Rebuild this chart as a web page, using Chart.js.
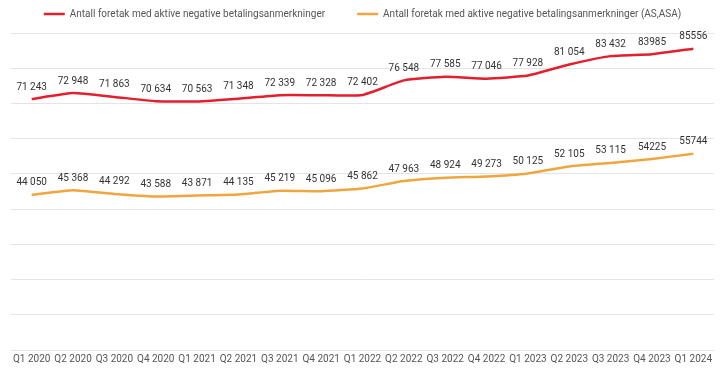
<!DOCTYPE html>
<html><head><meta charset="utf-8">
<script src="https://cdn.jsdelivr.net/npm/chart.js@4"></script>
<style>html,body{margin:0;padding:0;background:#fff}#wrap{width:726px;height:371px}</style>
</head><body><div id="wrap"><canvas id="c"></canvas></div>
<script>
const categories = ["Q1 2020","Q2 2020","Q3 2020","Q4 2020","Q1 2021","Q2 2021","Q3 2021","Q4 2021","Q1 2022","Q2 2022","Q3 2022","Q4 2022","Q1 2023","Q2 2023","Q3 2023","Q4 2023","Q1 2024"];
const seriesAllName = "Antall foretak med aktive negative betalingsanmerkninger";
const seriesAll = [71243,72948,71863,70634,70563,71348,72339,72328,72402,76548,77585,77046,77928,81054,83432,83985,85556];
const seriesAllLabels = ["71 243","72 948","71 863","70 634","70 563","71 348","72 339","72 328","72 402","76 548","77 585","77 046","77 928","81 054","83 432","83985","85556"];
const seriesAsName = "Antall foretak med aktive negative betalingsanmerkninger (AS,ASA)";
const seriesAs = [44050,45368,44292,43588,43871,44135,45219,45096,45862,47963,48924,49273,50125,52105,53115,54225,55744];
const seriesAsLabels = ["44 050","45 368","44 292","43 588","43 871","44 135","45 219","45 096","45 862","47 963","48 924","49 273","50 125","52 105","53 115","54225","55744"];
const yMin = 0, yMax = 90000, yStep = 10000;

const RED = '#E31F2D', ORANGE = '#F0A63E';
const labelSets = [seriesAllLabels, seriesAsLabels];

const dataLabels = {
  id: 'dataLabels',
  afterDatasetsDraw(chart) {
    const ctx = chart.ctx;
    ctx.save();
    ctx.font = '10px Roboto';
    ctx.fillStyle = '#333';
    ctx.textAlign = 'center';
    ctx.textBaseline = 'middle';
    chart.data.datasets.forEach((ds, di) => {
      chart.getDatasetMeta(di).data.forEach((pt, i) => {
        ctx.fillText(labelSets[di][i], pt.x, pt.y - 12);
      });
    });
    ctx.restore();
  }
};

// wide gap between legend items while keeping the legend near the top edge
const legendShift = {
  id: 'legendShift',
  afterLayout(chart) {
    const lg = chart.legend;
    if (lg) lg.top = 14 - lg.options.labels.padding - 5;
  }
};

new Chart(document.getElementById('c'), {
  type: 'line',
  data: {
    labels: categories,
    datasets: [
      {label: seriesAllName, data: seriesAll, borderColor: RED, backgroundColor: RED, borderWidth: 2.5, pointRadius: 0, tension: 0.15},
      {label: seriesAsName, data: seriesAs, borderColor: ORANGE, backgroundColor: ORANGE, borderWidth: 2.5, pointRadius: 0, tension: 0.15}
    ]
  },
  options: {
    responsive: true,
    maintainAspectRatio: false,
    animation: false,
    layout: {padding: {left: 11, right: 12, top: 0, bottom: 3}},
    plugins: {
      legend: {
        position: 'top',
        maxHeight: 33,
        labels: {usePointStyle: true, pointStyle: 'line', pointStyleWidth: 21, boxHeight: 10, padding: 32, color: '#555', font: {family: 'Roboto', size: 10}}
      },
      tooltip: {enabled: false}
    },
    scales: {
      x: {
        offset: true,
        grid: {display: false, drawTicks: false},
        border: {display: false},
        ticks: {color: '#555', font: {family: 'Roboto', size: 10}, maxRotation: 0, autoSkip: false, padding: 3}
      },
      y: {
        min: yMin, max: yMax,
        ticks: {display: false, stepSize: yStep, autoSkip: false},
        grid: {color: '#e4e4e4', lineWidth: 1, drawTicks: false},
        border: {display: false}
      }
    }
  },
  plugins: [dataLabels, legendShift]
});
</script>
</body></html>
